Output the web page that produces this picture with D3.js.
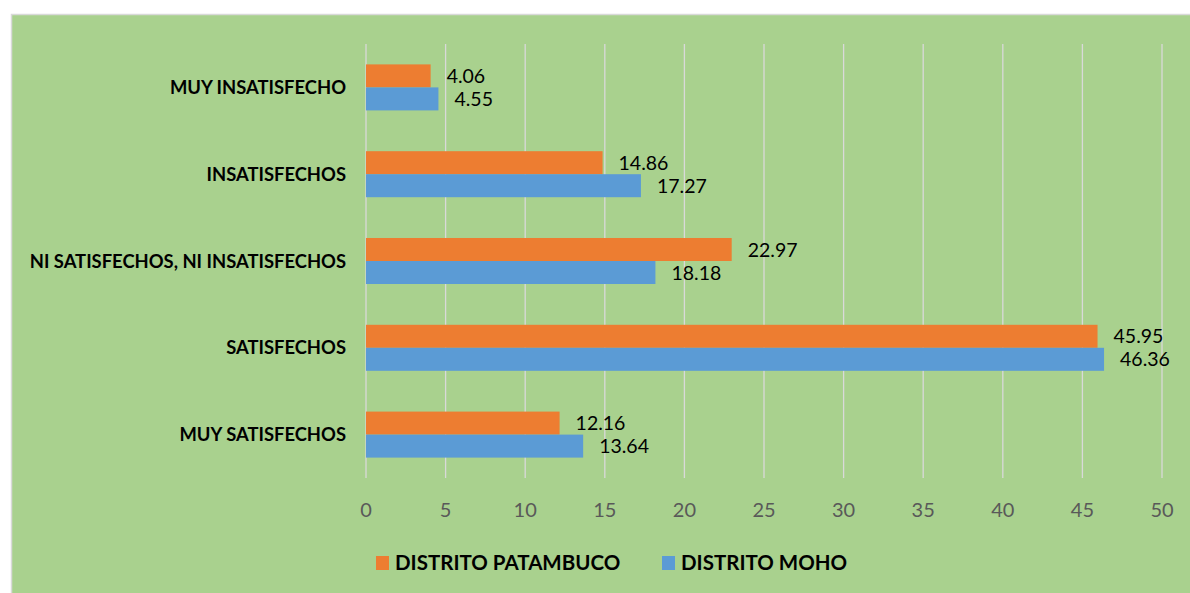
<!DOCTYPE html>
<html>
<head>
<meta charset="utf-8">
<script src="https://cdn.jsdelivr.net/npm/d3@7"></script>
<style>
  html, body { margin: 0; padding: 0; background: #fff; }
  svg { display: block; }
  text { font-family: Lato, "Open Sans", sans-serif; }
</style>
</head>
<body>
<div id="chart"></div>
<script>
"use strict";

// categories, top to bottom
const categories = ["MUY INSATISFECHO", "INSATISFECHOS", "NI SATISFECHOS, NI INSATISFECHOS", "SATISFECHOS", "MUY SATISFECHOS"];
const seriesNames = ["DISTRITO PATAMBUCO", "DISTRITO MOHO"];
const patambuco = [4.06, 14.86, 22.97, 45.95, 12.16];
const moho = [4.55, 17.27, 18.18, 46.36, 13.64];
const xTicks = [0, 5, 10, 15, 20, 25, 30, 35, 40, 45, 50];
const colors = ["#ed7d31", "#5b9bd5"];

const width = 1190, height = 593;

const svg = d3.select("#chart").append("svg")
    .attr("width", width).attr("height", height);

// chart area background
svg.append("rect")
    .attr("x", 11.5).attr("y", 14.5)
    .attr("width", width).attr("height", height)
    .attr("fill", "#a9d18e")
    .attr("stroke", "#d9d9d9").attr("stroke-width", 1.5);

const x = d3.scaleLinear().domain([0, 50]).range([366, 1162]);
const y = d3.scaleBand().domain(categories).range([44, 478])
    .paddingInner(0.47).paddingOuter(0.235);
const sub = d3.scaleBand().domain(seriesNames).range([0, y.bandwidth()]);

// gridlines
svg.append("g").selectAll("line")
    .data(xTicks)
    .enter().append("line")
    .attr("x1", d => x(d)).attr("x2", d => x(d))
    .attr("y1", 44).attr("y2", 478)
    .attr("stroke", "#d9d9d9").attr("stroke-width", 1.3);

// tick labels
svg.append("g").selectAll("text")
    .data(xTicks)
    .enter().append("text")
    .attr("x", d => x(d)).attr("y", 517)
    .attr("text-anchor", "middle")
    .attr("font-size", 20)
    .attr("fill", "#595959")
    .text(d => d);

// category labels
svg.append("g").selectAll("text")
    .data(categories)
    .enter().append("text")
    .attr("x", 346)
    .attr("y", d => y(d) + y.bandwidth() / 2)
    .attr("dy", "0.36em")
    .attr("text-anchor", "end")
    .attr("font-size", 18.4)
    .attr("font-weight", "bold")
    .attr("fill", "#000")
    .text(d => d);

// bars
const series = [patambuco, moho];
series.forEach(function(vals, si) {
  const g = svg.append("g");
  g.selectAll("rect")
    .data(vals)
    .enter().append("rect")
    .attr("x", x(0))
    .attr("y", (d, i) => y(categories[i]) + sub(seriesNames[si]))
    .attr("width", d => x(d) - x(0))
    .attr("height", sub.bandwidth())
    .attr("fill", colors[si]);
  g.selectAll("text")
    .data(vals)
    .enter().append("text")
    .attr("x", d => x(d) + 16)
    .attr("y", (d, i) => y(categories[i]) + sub(seriesNames[si]) + sub.bandwidth() / 2)
    .attr("dy", "0.36em")
    .attr("font-size", 19.5)
    .attr("fill", "#000")
    .text(d => d3.format(".2f")(d));
});

// legend
const legendX = [376, 662];
const lg = svg.append("g").selectAll("g")
    .data(seriesNames)
    .enter().append("g")
    .attr("transform", (d, i) => `translate(${legendX[i]},556)`);
lg.append("rect")
    .attr("width", 13).attr("height", 14)
    .attr("fill", (d, i) => colors[i]);
lg.append("text")
    .attr("x", 19).attr("y", 7)
    .attr("dy", "0.36em")
    .attr("font-size", 20.5)
    .attr("font-weight", "bold")
    .attr("fill", "#000")
    .text(d => d);
</script>
</body>
</html>
